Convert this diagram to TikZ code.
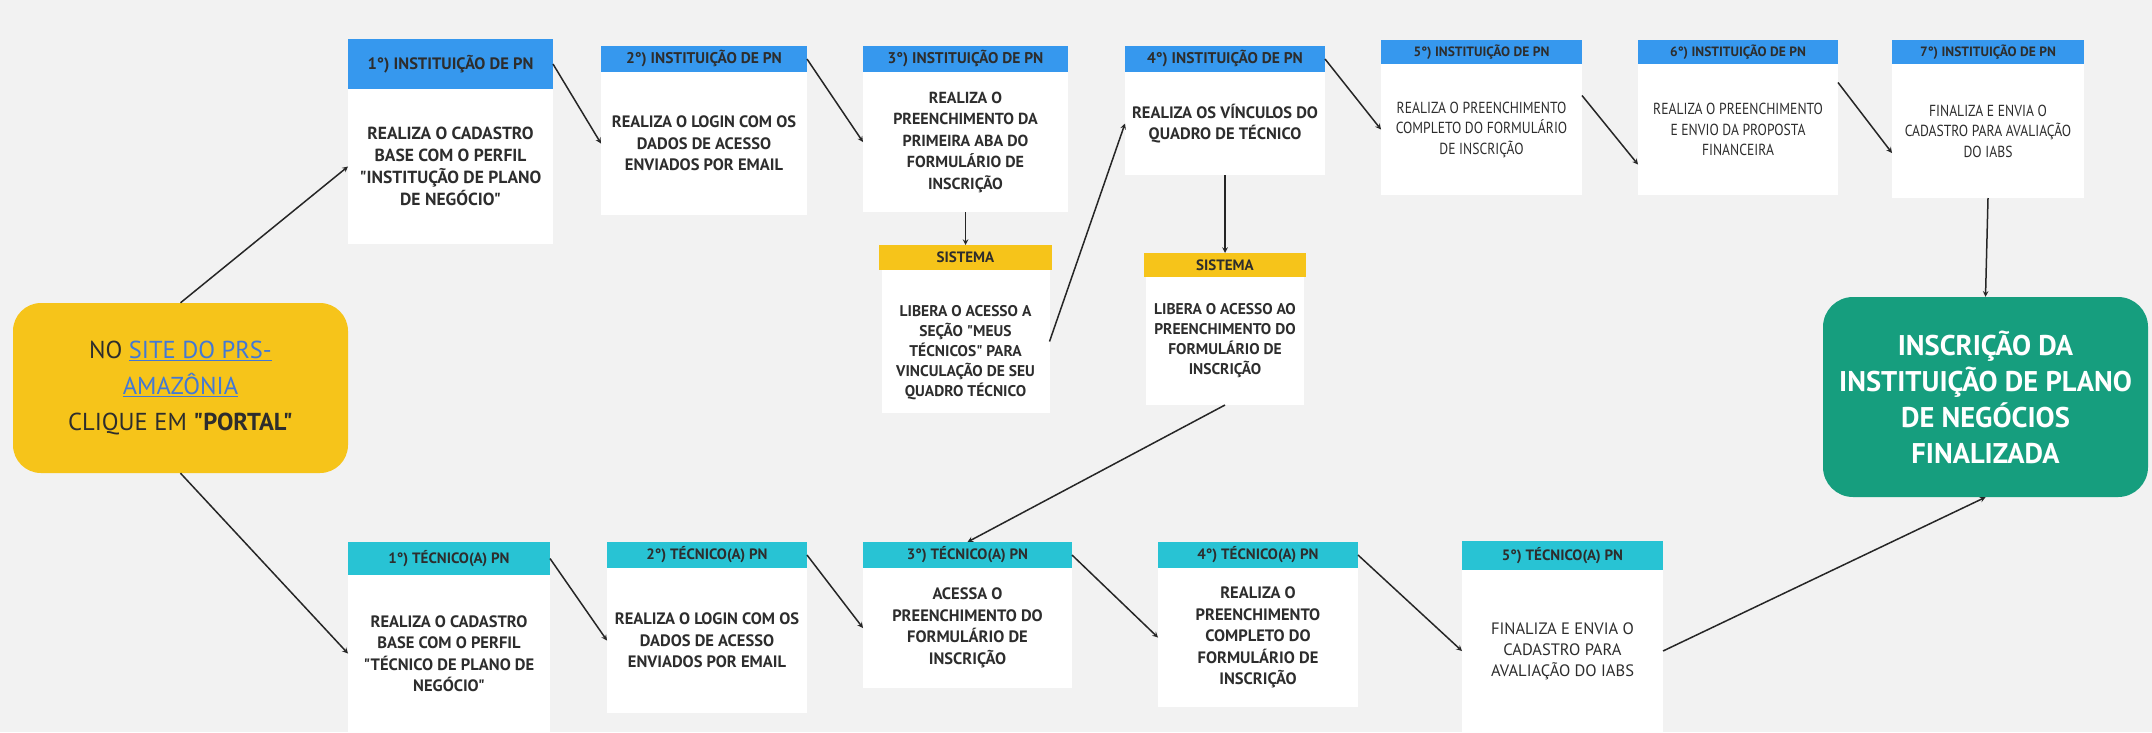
\documentclass[tikz,border=0pt]{standalone}
\usepackage{fontspec}
\setmainfont{PT Sans}[Ligatures=TeXOff]
\newfontfamily\narrowfont{PT Sans}[Ligatures=TeXOff, FakeStretch=0.85]
\usetikzlibrary{positioning}
\definecolor{pnblue}{RGB}{54,152,238}
\definecolor{techcyan}{RGB}{40,195,212}
\definecolor{sysyellow}{RGB}{246,196,26}
\definecolor{endgreen}{RGB}{22,158,126}
\definecolor{linkblue}{RGB}{66,120,214}
\definecolor{txtdark}{RGB}{45,45,45}
\definecolor{arrowdark}{RGB}{38,38,38}
\definecolor{bggray}{RGB}{242,242,242}
\tikzset{
  hdr/.style={rectangle, outer sep=0pt, inner sep=1pt, text=txtdark, font=\bfseries\fontsize{15.5}{17}\selectfont},
  pnhdr/.style={hdr, fill=pnblue},
  smallhdr/.style={pnhdr, font=\bfseries\fontsize{13.5}{15}\selectfont},
  techhdr/.style={hdr, fill=techcyan, font=\bfseries\fontsize{15}{16}\selectfont},
  syshdr/.style={hdr, fill=sysyellow, font=\bfseries\fontsize{15}{16}\selectfont},
  bodybox/.style={rectangle, fill=white, outer sep=0pt, inner sep=2pt, align=center, text=txtdark, font=\bfseries\fontsize{16.5}{21.5}\selectfont},
  sysbody/.style={bodybox, font=\bfseries\fontsize{15.5}{20}\selectfont},
  lightbody/.style={bodybox, font=\narrowfont\fontsize{16}{20.5}\selectfont},
  startbox/.style={rectangle, rounded corners=28pt, fill=sysyellow, align=center, text=txtdark, font=\fontsize{24.5}{36}\selectfont},
  endbox/.style={rectangle, rounded corners=30pt, fill=endgreen, align=center, text=white, font=\bfseries\fontsize{28.5}{36}\selectfont},
  arr/.style={-stealth, line width=1.5pt, draw=arrowdark}
}

\begin{document}
\begin{tikzpicture}[x=1pt,y=1pt,yscale=-1,xscale=1]
\fill[bggray] (0,0) rectangle (2152,732);
\useasboundingbox (0,0) rectangle (2152,732);

\node (start) at (180.5,388) [startbox, minimum width=335, minimum height=170] {NO \textcolor{linkblue}{\underline{SITE DO PRS-}}\\\textcolor{linkblue}{\underline{AMAZÔNIA}}\\CLIQUE EM \textbf{"PORTAL"}};
\node (fim) at (1985.5,397) [endbox, minimum width=325, minimum height=200] {INSCRIÇÃO DA\\INSTITUIÇÃO DE PLANO\\DE NEGÓCIOS\\FINALIZADA};

\node (h1) at (450.5,64) [pnhdr, minimum width=205, minimum height=50, font=\bfseries\fontsize{16.5}{18}\selectfont] {1°) INSTITUIÇÃO DE PN};
\node (b1) [bodybox, below=0pt of h1, minimum width=205, minimum height=155, font=\bfseries\fontsize{17.5}{22}\selectfont] {REALIZA O CADASTRO\\BASE COM O PERFIL\\"INSTITUÇÃO DE PLANO\\DE NEGÓCIO"};
\node (h2) at (704,59) [pnhdr, minimum width=206, minimum height=26] {2°) INSTITUIÇÃO DE PN};
\node (b2) [bodybox, below=0pt of h2, minimum width=206, minimum height=143] {REALIZA O LOGIN COM OS\\DADOS DE ACESSO\\ENVIADOS POR EMAIL};
\node (h3) at (965.5,59) [pnhdr, minimum width=205, minimum height=26] {3°) INSTITUIÇÃO DE PN};
\node (b3) [bodybox, below=0pt of h3, minimum width=205, minimum height=140, font=\bfseries\fontsize{16}{21.5}\selectfont] {REALIZA O\\PREENCHIMENTO DA\\PRIMEIRA ABA DO\\FORMULÁRIO DE\\INSCRIÇÃO};
\node (s1h) at (965.5,257.5) [syshdr, minimum width=173, minimum height=25] {SISTEMA};
\node (s1b) [sysbody, below=0pt of s1h, minimum width=168, minimum height=143] {\rule{0pt}{34pt}LIBERA O ACESSO A\\SEÇÃO "MEUS\\TÉCNICOS" PARA\\VINCULAÇÃO DE SEU\\QUADRO TÉCNICO};
\node (h4) at (1225,59) [pnhdr, minimum width=200, minimum height=26] {4°) INSTITUIÇÃO DE PN};
\node (b4) [bodybox, below=0pt of h4, minimum width=200, minimum height=103] {REALIZA OS VÍNCULOS DO\\QUADRO DE TÉCNICO};
\node (s2h) at (1225,265) [syshdr, minimum width=162, minimum height=24] {SISTEMA};
\node (s2b) [sysbody, below=0pt of s2h, minimum width=158, minimum height=128] {LIBERA O ACESSO AO\\PREENCHIMENTO DO\\FORMULÁRIO DE\\INSCRIÇÃO};
\node (h5) at (1481.5,52) [smallhdr, minimum width=201, minimum height=24] {5°) INSTITUIÇÃO DE PN};
\node (b5) [lightbody, below=0pt of h5, minimum width=201, minimum height=131] {REALIZA O PREENCHIMENTO\\COMPLETO DO FORMULÁRIO\\DE INSCRIÇÃO};
\node (h6) at (1738,52) [smallhdr, minimum width=200, minimum height=24] {6°) INSTITUIÇÃO DE PN};
\node (b6) [lightbody, below=0pt of h6, minimum width=200, minimum height=131] {REALIZA O PREENCHIMENTO\\E ENVIO DA PROPOSTA\\FINANCEIRA};
\node (h7) at (1988,52) [smallhdr, minimum width=192, minimum height=24] {7°) INSTITUIÇÃO DE PN};
\node (b7) [lightbody, below=0pt of h7, minimum width=192, minimum height=134] {FINALIZA E ENVIA O\\CADASTRO PARA AVALIAÇÃO\\DO IABS};

\node (t1h) at (449,558.5) [techhdr, minimum width=202, minimum height=33] {1°) TÉCNICO(A) PN};
\node (t1b) [bodybox, below=0pt of t1h, minimum width=202, minimum height=157] {REALIZA O CADASTRO\\BASE COM O PERFIL\\"TÉCNICO DE PLANO DE\\NEGÓCIO"};
\node (t2h) at (707,555) [techhdr, minimum width=200, minimum height=26] {2°) TÉCNICO(A) PN};
\node (t2b) [bodybox, below=0pt of t2h, minimum width=200, minimum height=145] {REALIZA O LOGIN COM OS\\DADOS DE ACESSO\\ENVIADOS POR EMAIL};
\node (t3h) at (967.5,555) [techhdr, minimum width=209, minimum height=26] {3°) TÉCNICO(A) PN};
\node (t3b) [bodybox, below=0pt of t3h, minimum width=209, minimum height=120] {ACESSA O\\PREENCHIMENTO DO\\FORMULÁRIO DE\\INSCRIÇÃO};
\node (t4h) at (1258,555) [techhdr, minimum width=200, minimum height=26] {4°) TÉCNICO(A) PN};
\node (t4b) [bodybox, below=0pt of t4h, minimum width=200, minimum height=139] {REALIZA O\\PREENCHIMENTO\\COMPLETO DO\\FORMULÁRIO DE\\INSCRIÇÃO};
\node (t5h) at (1562.5,555.5) [techhdr, minimum width=201, minimum height=29] {5°) TÉCNICO(A) PN};
\node (t5b) [bodybox, below=0pt of t5h, minimum width=201, minimum height=162, font=\fontsize{16.5}{21}\selectfont] {FINALIZA E ENVIA O\\CADASTRO PARA\\AVALIAÇÃO DO IABS};

\draw[arr] (start.north) -- (b1.west);
\draw[arr] (start.south) -- (t1b.west);
\draw[arr] (h1.east) -- (b2.west);
\draw[arr] (h2.east) -- (b3.west);
\draw[arr] (b3.south) -- (s1h.north);
\draw[arr] (s1b.east) -- (b4.west);
\draw[arr] (b4.south) -- (s2h.north);
\draw[arr] (h4.east) -- (b5.west);
\draw[arr] ([yshift=-34pt]b5.east) -- ([yshift=35pt]b6.west);
\draw[arr] ([yshift=-47pt]b6.east) -- ([yshift=22pt]b7.west);
\draw[arr] (b7.south) -- (fim.north);
\draw[arr] (s2b.south) -- (t3h.north);
\draw[arr] (t1h.east) -- (t2b.west);
\draw[arr] (t2h.east) -- (t3b.west);
\draw[arr] (t3h.east) -- (t4b.west);
\draw[arr] (t4h.east) -- (t5b.west);
\draw[arr] (t5b.east) -- (fim.south);
\end{tikzpicture}
\end{document}
